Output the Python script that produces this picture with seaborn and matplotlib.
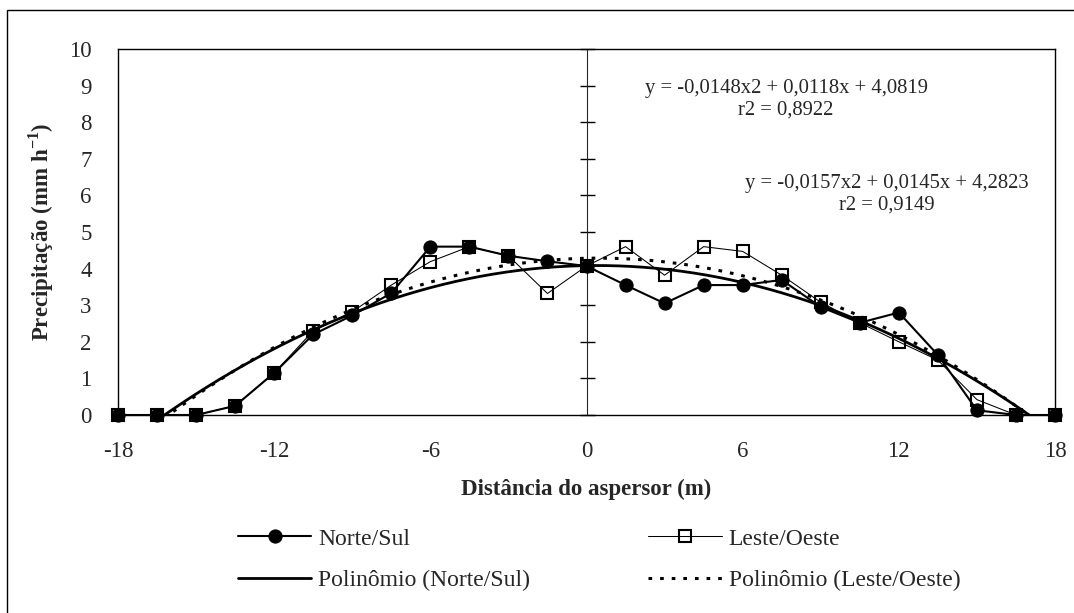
import numpy as np
import pandas as pd
import matplotlib
matplotlib.use("Agg")
import matplotlib.pyplot as plt
from matplotlib.ticker import MultipleLocator
from matplotlib.patches import Rectangle
import seaborn as sns

# Distance from the sprinkler (m) and measured precipitation (mm/h)
distancia = [-18, -16.5, -15, -13.5, -12, -10.5, -9, -7.5, -6, -4.5, -3, -1.5, 0,
             1.5, 3, 4.5, 6, 7.5, 9, 10.5, 12, 13.5, 15, 16.5, 18]
norte_sul = [0, 0, 0, 0.25, 1.15, 2.2, 2.72, 3.33, 4.6, 4.6, 4.35, 4.2, 4.07,
             3.55, 3.05, 3.55, 3.55, 3.69, 2.95, 2.52, 2.8, 1.64, 0.13, 0, 0]
leste_oeste = [0, 0, 0, 0.25, 1.15, 2.3, 2.82, 3.55, 4.19, 4.6, 4.35, 3.32, 4.07,
               4.6, 3.82, 4.6, 4.47, 3.82, 3.08, 2.52, 2.0, 1.5, 0.42, 0, 0]

# Quadratic trendline coefficients (a, b, c) and r2
coef_ns = (-0.0148, 0.0118, 4.0819)
coef_lo = (-0.0157, 0.0145, 4.2823)
r2_ns = "0,8922"
r2_lo = "0,9149"

x_ticks = [-18, -12, -6, 0, 6, 12, 18]
y_ticks = list(range(0, 11))

sns.set_style("white")
plt.rcParams["font.family"] = ["Liberation Serif", "DejaVu Serif"]
plt.rcParams["axes.unicode_minus"] = False
plt.rcParams["mathtext.fontset"] = "custom"
plt.rcParams["mathtext.rm"] = "Liberation Serif"
plt.rcParams["mathtext.bf"] = "Liberation Serif:bold"

df = pd.DataFrame({"dist": distancia, "ns": norte_sul, "lo": leste_oeste})
xs = np.linspace(-18, 18, 600)
trend = pd.DataFrame({
    "x": xs,
    "ns": coef_ns[0] * xs ** 2 + coef_ns[1] * xs + coef_ns[2],
    "lo": coef_lo[0] * xs ** 2 + coef_lo[1] * xs + coef_lo[2],
})

W, H = 1074, 613
fig = plt.figure(figsize=(W / 100, H / 100), dpi=100)
ax = fig.add_axes([118 / W, 1 - 415 / H, (1055 - 118) / W, (415 - 49) / H])

sns.lineplot(data=df, x="dist", y="ns", ax=ax, color="black", linewidth=1.5,
             marker="o", markersize=9.5, markeredgecolor="black",
             label="Norte/Sul", zorder=3, clip_on=False)
sns.lineplot(data=df, x="dist", y="lo", ax=ax, color="black", linewidth=0.75,
             marker="s", markersize=8.5, markerfacecolor="none",
             markeredgecolor="black", markeredgewidth=1.5,
             label="Leste/Oeste", zorder=4, clip_on=False)
sns.lineplot(data=trend, x="x", y="ns", ax=ax, color="black", linewidth=2.0,
             label="Polinômio (Norte/Sul)", zorder=2)
sns.lineplot(data=trend, x="x", y="lo", ax=ax, color="black", linewidth=2.2,
             linestyle=(0, (1.2, 2.6)), dash_capstyle="butt",
             label="Polinômio (Leste/Oeste)", zorder=2)

ax.set_xlim(-18, 18)
ax.set_ylim(0, 10)
ax.set_xticks(x_ticks)
ax.set_yticks(y_ticks)
ax.tick_params(axis="x", direction="out", length=5.8, width=1.0, color="black",
               labelsize=16.5, pad=13)
ax.tick_params(axis="y", length=0, labelsize=16.5, pad=19)
for s in ax.spines.values():
    s.set_color("black")
    s.set_linewidth(1.0)
    s.set_visible(True)

# vertical axis crossing at x = 0 with cross ticks
sec = ax.secondary_yaxis(0.5)
sec.yaxis.set_major_locator(MultipleLocator(1))
sec.tick_params(axis="y", direction="inout", length=10.8, width=1.0,
                color="black", labelleft=False, labelright=False)
sec.spines["left"].set_color("black")
sec.spines["left"].set_linewidth(1.0)

ax.set_xlabel("Distância do aspersor (m)", fontsize=16.5, fontweight="bold")
ax.set_ylabel(r"Precipitação (mm h$^{\mathbf{-1}}$)", fontsize=16.5,
              fontweight="bold")
ax.xaxis.set_label_coords(0.5, -0.175)
ax.yaxis.set_label_coords(-0.066, 0.5)

ax.text(0.713, 0.862,
        f"y = {coef_ns[0]:.4f}x2 + {coef_ns[1]:.4f}x + {coef_ns[2]:.4f}".replace(".", ",")
        + f"\nr2 = {r2_ns}",
        transform=ax.transAxes, ha="center", va="center", ma="center",
        fontsize=14.9, linespacing=1.2)
ax.text(0.82, 0.603,
        f"y = {coef_lo[0]:.4f}x2 + {coef_lo[1]:.4f}x + {coef_lo[2]:.4f}".replace(".", ",")
        + f"\nr2 = {r2_lo}",
        transform=ax.transAxes, ha="center", va="center", ma="center",
        fontsize=14.9, linespacing=1.2)

handles, labels = ax.get_legend_handles_labels()
if ax.get_legend() is not None:
    ax.get_legend().remove()
order = ["Norte/Sul", "Polinômio (Norte/Sul)", "Leste/Oeste", "Polinômio (Leste/Oeste)"]
hmap = dict(zip(labels, handles))
fig.legend([hmap[k] for k in order], order, ncol=2, loc="upper left",
           bbox_to_anchor=(238 / W, 1 - 528 / H), frameon=False,
           fontsize=17, handlelength=3.1, handletextpad=0.3,
           columnspacing=5.0, labelspacing=0.85, borderpad=0,
           borderaxespad=0, numpoints=1)

fig.patches.append(Rectangle((7 / W, -0.1), 1.2, (1 - 10 / H) + 0.1,
                             transform=fig.transFigure, fill=False,
                             edgecolor="black", linewidth=1.0))

fig.savefig("out.png", dpi=100, facecolor="white")
